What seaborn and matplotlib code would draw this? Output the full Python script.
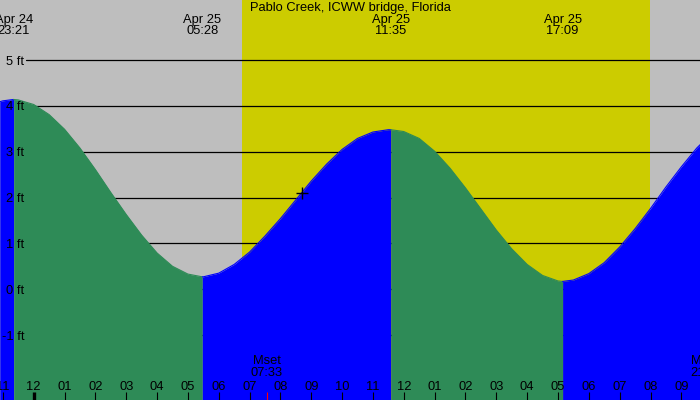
import numpy as np
import pandas as pd
import matplotlib
matplotlib.use("Agg")
import matplotlib.pyplot as plt
import matplotlib.transforms as mtransforms
import seaborn as sns

# ---------------- data (hours counted from Apr 25 00:00) ----------------
title = "Pablo Creek, ICWW bridge, Florida"
extreme_hours = [-0.65, 5.467, 11.583, 17.15]
extreme_dates = ["Apr 24", "Apr 25", "Apr 25", "Apr 25"]
extreme_clock = ["23:21", "05:28", "11:35", "17:09"]

curve_hours = [-1.1, -1.0, -0.65, -0.5, 0.0, 0.5, 1.0, 1.5, 2.0, 2.5, 3.0, 3.5,
               4.0, 4.5, 5.0, 5.467, 5.5, 6.0, 6.5, 7.0, 7.5, 8.0, 8.5, 9.0,
               9.5, 10.0, 10.5, 11.0, 11.5, 11.583, 12.0, 12.5, 13.0, 13.5,
               14.0, 14.5, 15.0, 15.5, 16.0, 16.5, 17.0, 17.15, 17.5, 18.0,
               18.5, 19.0, 19.5, 20.0, 20.5, 21.0, 21.5, 21.65]
curve_heights = [4.09, 4.11, 4.14, 4.13, 4.03, 3.81, 3.49, 3.08, 2.61, 2.11, 1.63, 1.18,
                 0.79, 0.50, 0.33, 0.27, 0.27, 0.35, 0.54, 0.81, 1.16, 1.54, 1.95, 2.36,
                 2.73, 3.05, 3.29, 3.43, 3.48, 3.48, 3.44, 3.29, 3.01, 2.64,
                 2.21, 1.75, 1.29, 0.88, 0.54, 0.30, 0.18, 0.17, 0.20, 0.34,
                 0.58, 0.92, 1.32, 1.76, 2.23, 2.67, 3.08, 3.18]

sunrise_hour = 6.767   # 06:46
sunset_hour = 19.97    # 19:58
moon_hours = [7.55, 21.83]
moon_names = ["Mset", "Mrise"]
moon_clock = ["07:33", "21:50"]
now_hour = 8.69

tick_hours = list(range(-1, 22))
tick_labels = ["11", "12", "01", "02", "03", "04", "05", "06", "07", "08", "09", "10",
               "11", "12", "01", "02", "03", "04", "05", "06", "07", "08", "09"]
ft_levels = [-1, 0, 1, 2, 3, 4, 5]
ft_labels = ["-1 ft", "0 ft", "1 ft", "2 ft", "3 ft", "4 ft", "5 ft"]

# ---------------- style ----------------
NIGHT = "#BEBEBE"
DAY = "#CCCC00"
FALL = "#2E8B57"
RISE = "#0000FF"
FS = 9.3

sns.set_style("white")
plt.rcParams["font.family"] = ["Liberation Sans", "DejaVu Sans"]

W, H = 700, 400
fig = plt.figure(figsize=(7, 4), dpi=100)
ax = fig.add_axes([0, 0, 1, 1])
ax.set_facecolor(NIGHT)
ax.set_axisbelow(False)
for s in ax.spines.values():
    s.set_visible(False)

px_per_hour = 30.84
x0_px = 33.7
px_per_ft = 45.83
y0_px = 289.2
xlim = (-x0_px / px_per_hour, (W - x0_px) / px_per_hour)
ylim = (-(H - y0_px) / px_per_ft, y0_px / px_per_ft)

# daylight band
ax.axvspan(sunrise_hour, sunset_hour, color=DAY, lw=0, zorder=0.2)

# grid lines
for lev in ft_levels:
    ax.axhline(lev, xmin=26 / W, xmax=1, color="black", lw=0.9, zorder=0.5)

# tide segments between extremes
df = pd.DataFrame({"hour": curve_hours, "height": curve_heights})
bounds = [-np.inf] + extreme_hours + [np.inf]
parts = []
palette = {}
for k in range(len(bounds) - 1):
    seg = df[(df.hour >= bounds[k]) & (df.hour <= bounds[k + 1])].copy()
    seg["segment"] = k
    rising = seg.height.iloc[-1] > seg.height.iloc[0]
    col = RISE if rising else FALL
    palette[k] = col
    ax.fill_between(seg.hour, seg.height, ylim[0] - 1, color=col, lw=0, zorder=1)
    parts.append(seg)
segdf = pd.concat(parts, ignore_index=True)
sns.lineplot(data=segdf, x="hour", y="height", hue="segment", palette=palette,
             units="segment", estimator=None, sort=False, legend=False,
             lw=0.8, ax=ax, zorder=1.1)

# current time marker
ax.plot([now_hour], [np.interp(now_hour, curve_hours, curve_heights)], marker="+",
        ms=8, mew=1.0, color="black", zorder=3)

ax.set_xlim(*xlim)
ax.set_ylim(*ylim)

# axes ticks / labels
ax.set_xlabel("")
ax.set_ylabel("")
ax.set_yticks(ft_levels, labels=ft_labels)
ax.tick_params(axis="y", length=0, pad=-17.3, labelsize=FS, labelcolor="black",
               left=True, right=False)
ax.set_xticks(tick_hours, labels=tick_labels)
ax.tick_params(axis="x", which="major", direction="in", length=5.8, width=0.8,
               color="black", pad=-13.7, labelsize=FS, labelcolor="black",
               bottom=True, top=False)
ax.set_xticks(moon_hours, minor=True)
ax.tick_params(axis="x", which="minor", direction="in", length=5.8, width=0.8,
               color="red", bottom=True, top=False)
for t, tk in zip(tick_hours, ax.xaxis.get_major_ticks()):
    if t == 0:
        tk.tick1line.set_markeredgewidth(2.4)
ax.set_xlim(*xlim)
ax.set_ylim(*ylim)

trans = mtransforms.blended_transform_factory(ax.transData, ax.transAxes)

# moon labels
for mh, mn, mc in zip(moon_hours, moon_names, moon_clock):
    ax.text(mh, 1 - 361 / H, mn, transform=trans, ha="center", va="center",
            fontsize=FS, color="black", zorder=4, clip_on=False)
    ax.text(mh, 1 - 373 / H, mc, transform=trans, ha="center", va="center",
            fontsize=FS, color="black", zorder=4, clip_on=False)

# extreme labels at top
for eh, ed, ec in zip(extreme_hours, extreme_dates, extreme_clock):
    ax.text(eh, 1 - 19.5 / H, ed, transform=trans, ha="center", va="center",
            fontsize=FS, color="black", zorder=4)
    ax.text(eh, 1 - 31.5 / H, ec, transform=trans, ha="center", va="center",
            fontsize=FS, color="black", zorder=4)

ax.text(0.5, 1 - 7.5 / H, title, transform=ax.transAxes, ha="center", va="center",
        fontsize=FS, color="black", zorder=4)

fig.savefig("out.png", dpi=100)
